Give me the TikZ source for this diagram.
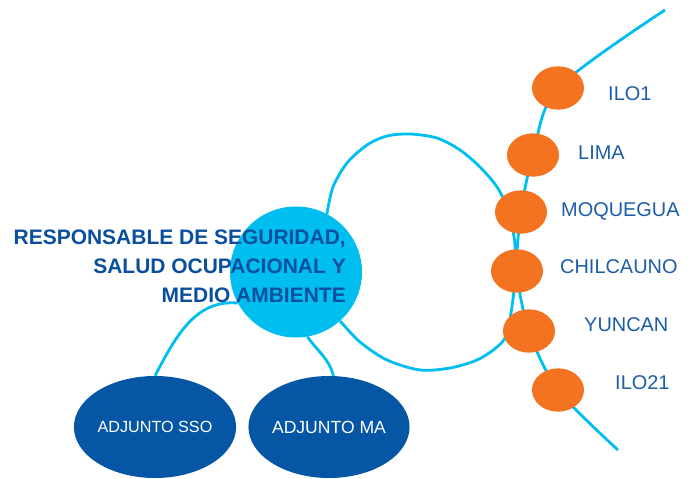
\documentclass[tikz,border=0pt]{standalone}
\usepackage{fontspec}
\setmainfont{Liberation Sans}
\usetikzlibrary{shapes.geometric}
\usetikzlibrary{backgrounds}
\definecolor{LineCyan}{HTML}{00BEF0}
\definecolor{BlobOrange}{HTML}{F37321}
\definecolor{BlobBlue}{HTML}{0557A5}
\definecolor{TitleBlue}{HTML}{0A4F9E}
\definecolor{CityBlue}{HTML}{1D5CA7}

\begin{document}
\begin{tikzpicture}[x=0.03cm, y=-0.03cm,
    pebble/.style={ellipse, fill=BlobOrange, inner sep=0, minimum width=1.56cm, minimum height=1.3cm},
    city/.style={anchor=west, text=CityBlue, inner sep=0, font=\fontsize{17}{20}\selectfont},
    adjunto/.style={ellipse, fill=BlobBlue, text=white, inner sep=0, minimum width=4.17cm, minimum height=3.06cm},
    link/.style={LineCyan, line width=2.4pt}]
  \useasboundingbox (0,0) rectangle (694,479);
  \node[ellipse, fill=LineCyan, inner sep=0, minimum width=3.96cm, minimum height=3.93cm] (resp) at (296,272) {};
  \node[anchor=east, align=right, text=TitleBlue, inner sep=0, font=\bfseries\fontsize{17.9}{24.8}\selectfont] (title) at (346,266)
    {RESPONSABLE DE SEGURIDAD,\\ SALUD OCUPACIONAL Y\\ MEDIO AMBIENTE};
  \node[pebble] (ilo1) at (558,88) {};
  \node[pebble] (lima) at (533,155) {};
  \node[pebble] (moq) at (521,212) {};
  \node[pebble] (chil) at (517,271) {};
  \node[pebble] (yun) at (529,331) {};
  \node[pebble] (ilo21) at (558,390) {};
  \node[city] (tilo1) at (608,94) {ILO1};
  \node[city] (tlima) at (578,153) {LIMA};
  \node[city] (tmoq) at (561,211) {MOQUEGUA};
  \node[city] (tchil) at (560,267) {CHILCAUNO};
  \node[city] (tyun) at (584,325) {YUNCAN};
  \node[city] (tilo21) at (615,383) {ILO21};
  \node[adjunto, font=\fontsize{13.8}{16}\selectfont] (sso) at (155,427) {ADJUNTO SSO};
  \node[adjunto, font=\fontsize{15}{18}\selectfont] (ma) at (329,427) {ADJUNTO MA};
  \begin{scope}[on background layer]
    \coordinate (arctop) at (665,10);
    \coordinate (arcend) at (618,450);
    \draw[link] plot[smooth] coordinates {(arctop) (ilo1.center) (lima.center) (moq.center) (chil.center) (yun.center) (ilo21.center) (arcend)};
    \draw[link] plot[smooth] coordinates {(resp.62) (333,187) (347,163) (367,145) (387,136) (410,134) (437,138) (460,150) (480,167) (497,187) (508,210) (515,245) (514,290) (507,333) (497,347) (477,360) (450,368) (420,370) (387,360) (360,342) (resp.-48)};
    \draw[link] (sso.north) to[out=62, in=175] (resp.-152);
    \draw[link] (ma.85) to[out=105, in=-55] (resp.-80);
  \end{scope}
\end{tikzpicture}
\end{document}
